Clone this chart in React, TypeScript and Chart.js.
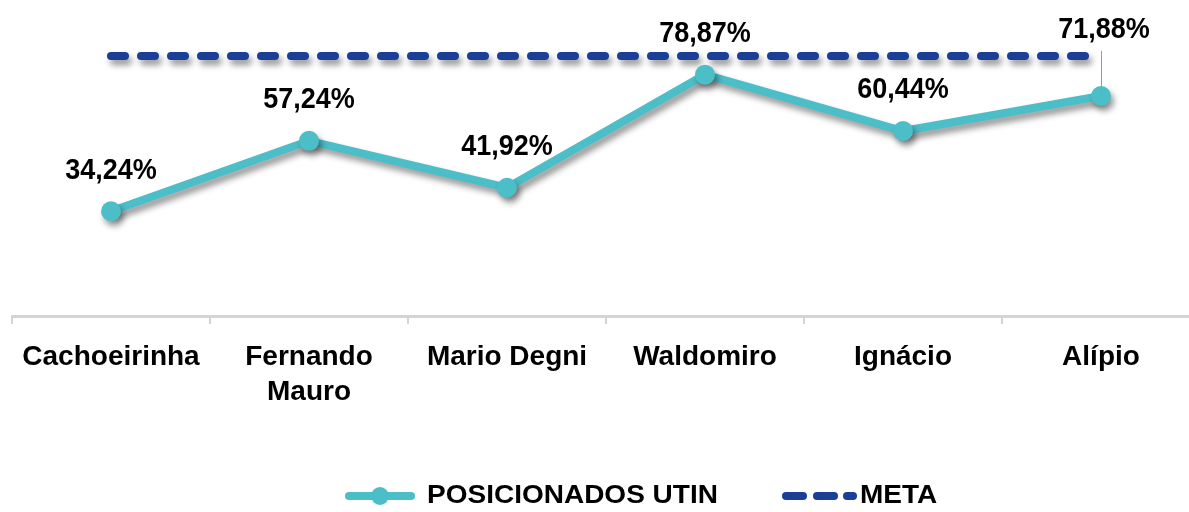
import React, { useEffect, useRef } from "react";
import { Chart, registerables } from "chart.js";

Chart.register(...registerables);

const categories: (string | string[])[] = [
  "Cachoeirinha",
  ["Fernando", "Mauro"],
  "Mario Degni",
  "Waldomiro",
  "Ignácio",
  "Alípio",
];
const posicionadosUtin = [34.24, 57.24, 41.92, 78.87, 60.44, 71.88];
const metaValues = [85, 85, 85, 85, 85, 85];
const seriesNames = ["POSICIONADOS UTIN", "META"];

const TEAL = "#4BBEC8";
const NAVY = "#1B3F96";
const FONT = '"Liberation Sans", Arial, Helvetica, sans-serif';

const fmt = (v: number) => v.toFixed(2).replace(".", ",") + "%";

const shadowPlugin = {
  id: "shadowPlugin",
  beforeDatasetsDraw(chart: any) {
    const c = chart.ctx;
    c.save();
    c.shadowColor = "rgba(0,0,0,0.42)";
    c.shadowBlur = 6;
    c.shadowOffsetX = 3;
    c.shadowOffsetY = 5;
  },
  afterDatasetsDraw(chart: any) {
    chart.ctx.restore();
  },
};

const labelsAndLegendPlugin = {
  id: "labelsAndLegend",
  afterDraw(chart: any) {
    const ctx = chart.ctx;
    const m = chart.getDatasetMeta(0);
    const vals = chart.data.datasets[0].data as number[];
    const last = m.data.length - 1;
    m.data.forEach((pt: any, i: number) => {
      const lift = i === last ? 66 : 41;
      const x = pt.x + (i === last ? 3 : 0);
      const y = pt.y - lift;
      if (i === last) {
        ctx.save();
        ctx.strokeStyle = "#9A9A9A";
        ctx.lineWidth = 1;
        ctx.beginPath();
        ctx.moveTo(pt.x + 0.5, y + 21);
        ctx.lineTo(pt.x + 0.5, pt.y);
        ctx.stroke();
        ctx.restore();
      }
      ctx.save();
      ctx.translate(x, y);
      ctx.scale(1, 1.12);
      ctx.font = `bold 27px ${FONT}`;
      ctx.textAlign = "center";
      ctx.textBaseline = "middle";
      ctx.fillStyle = "#000";
      ctx.fillText(fmt(vals[i]), 0, 0);
      ctx.restore();
    });

    // legend
    const ly = 496;
    ctx.save();
    ctx.lineCap = "round";
    ctx.strokeStyle = TEAL;
    ctx.lineWidth = 8;
    ctx.beginPath();
    ctx.moveTo(349, ly);
    ctx.lineTo(411, ly);
    ctx.stroke();
    ctx.fillStyle = TEAL;
    ctx.beginPath();
    ctx.arc(380, ly, 9, 0, Math.PI * 2);
    ctx.fill();

    ctx.strokeStyle = NAVY;
    const segs = [
      [786, 803],
      [817, 834],
      [847, 853],
    ];
    segs.forEach(([a, b]) => {
      ctx.beginPath();
      ctx.moveTo(a, ly);
      ctx.lineTo(b, ly);
      ctx.stroke();
    });

    ctx.fillStyle = "#000";
    ctx.font = `bold 28px ${FONT}`;
    ctx.textAlign = "left";
    ctx.textBaseline = "middle";
    ctx.save();
    ctx.translate(427, ly);
    ctx.scale(1, 0.9);
    ctx.fillText(seriesNames[0], 0, 0);
    ctx.restore();
    ctx.save();
    ctx.translate(860, ly);
    ctx.scale(1, 0.9);
    ctx.fillText(seriesNames[1], 0, 0);
    ctx.restore();
    ctx.restore();
  },
};

export default function App() {
  const ref = useRef<HTMLCanvasElement | null>(null);

  useEffect(() => {
    if (!ref.current) return;
    const chart = new Chart(ref.current, {
      type: "line",
      data: {
        labels: categories as any,
        datasets: [
          {
            label: seriesNames[0],
            data: posicionadosUtin,
            borderColor: TEAL,
            backgroundColor: TEAL,
            borderWidth: 8,
            pointRadius: 10,
            pointBackgroundColor: TEAL,
            pointBorderColor: TEAL,
            pointBorderWidth: 0,
            tension: 0,
            fill: false,
          },
          {
            label: seriesNames[1],
            data: metaValues,
            borderColor: NAVY,
            backgroundColor: NAVY,
            borderWidth: 8,
            borderDash: [14, 16],
            borderCapStyle: "round",
            pointRadius: 0,
            tension: 0,
            fill: false,
          },
        ],
      },
      options: {
        responsive: false,
        animation: false,
        events: [],
        layout: { padding: { left: 12, right: 12, top: 7, bottom: 86 } },
        plugins: {
          legend: { display: false },
          tooltip: { enabled: false },
          title: { display: false },
        },
        scales: {
          x: {
            offset: true,
            grid: {
              offset: true,
              drawOnChartArea: false,
              drawTicks: true,
              tickLength: 8,
              color: "#D4D4D4",
              lineWidth: 2,
            },
            border: { display: true, color: "#D4D4D4", width: 3 },
            ticks: {
              color: "#000",
              font: { family: FONT, size: 28, weight: "bold", lineHeight: 1.25 },
              padding: 16,
              maxRotation: 0,
              autoSkip: false,
            },
          },
          y: { display: false, min: 0, max: 100 },
        },
      },
      plugins: [shadowPlugin, labelsAndLegendPlugin],
    });
    return () => chart.destroy();
  }, []);

  return (
    <div
      style={{
        position: "fixed",
        left: 0,
        top: 0,
        width: 1189,
        height: 512,
        overflow: "hidden",
        background: "#fff",
      }}
    >
      <canvas ref={ref} width={1212} height={512} style={{ width: 1212, height: 512, display: "block" }} />
    </div>
  );
}
